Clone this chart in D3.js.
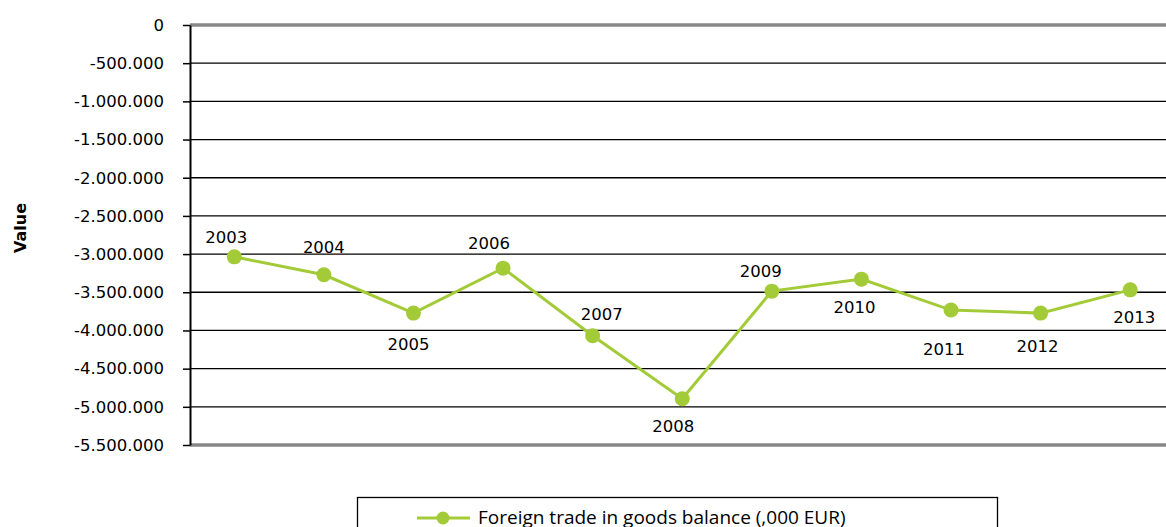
<!DOCTYPE html>
<html>
<head>
<meta charset="utf-8">
<script src="https://cdn.jsdelivr.net/npm/d3@7"></script>
<style>
  body { margin: 0; background: #fff; }
  svg { display: block; font-family: 'Open Sans', sans-serif; }
</style>
</head>
<body>
<div id="chart"></div>
<script>
// data
const years = ['2003', '2004', '2005', '2006', '2007', '2008', '2009', '2010', '2011', '2012', '2013'];
const balance = [-3036000, -3271000, -3773000, -3184000, -4070000, -4894000, -3485000, -3328000, -3733000, -3773000, -3468000];
const yTicks = [0, -500000, -1000000, -1500000, -2000000, -2500000, -3000000, -3500000, -4000000, -4500000, -5000000, -5500000];
const seriesName = 'Foreign trade in goods balance (,000 EUR)';
const axisTitle = 'Value';

// where each data label sits, relative to its point (excel-style placement)
const labelNudge = [[-8, -20], [0, -28], [-5, 31], [-14, -25], [9, -22], [-9, 28],
  [-11, -20], [-7, 28], [-7, 39], [-3, 33], [4, 27]];

const width = 1166;
const height = 527;
const green = '#a3cb38';
const numFont = "'DejaVu Sans', sans-serif";
const fmt = d3.formatLocale({ decimal: ',', thousands: '.', grouping: [3], currency: ['', ''], minus: '-' }).format(',');

const svg = d3.select('#chart')
  .append('svg')
  .attr('width', width)
  .attr('height', height);

const x = d3.scalePoint()
  .domain(years)
  .range([189.5, 1175])
  .padding(0.5);

const y = d3.scaleLinear()
  .domain([-5500000, 0])
  .range([445, 25]);

const left = 190;

/* grid lines */
svg.append('g')
  .selectAll('line')
  .data(yTicks.filter((d) => d !== 0 && d !== -5500000))
  .join('line')
  .attr('x1', left)
  .attr('x2', width)
  .attr('y1', (d) => y(d))
  .attr('y2', (d) => y(d))
  .attr('stroke', '#000')
  .attr('stroke-width', 1.3);

// top and bottom gray borders
svg.append('line')
  .attr('x1', left).attr('x2', width)
  .attr('y1', y(0)).attr('y2', y(0))
  .attr('stroke', '#888').attr('stroke-width', 3.5);
svg.append('line')
  .attr('x1', left).attr('x2', width)
  .attr('y1', y(-5500000)).attr('y2', y(-5500000))
  .attr('stroke', '#888').attr('stroke-width', 3.5);

/* y axis */
function yAxis(g) {
  g.attr('transform', `translate(${left},0)`)
    .call(d3.axisLeft(y).tickValues(yTicks).tickFormat(fmt).tickSize(7).tickPadding(19).tickSizeOuter(0));
  g.select('.domain').attr('stroke', '#000').attr('stroke-width', 2);
  g.selectAll('.tick line').attr('stroke', '#000').attr('stroke-width', 1.5);
  g.selectAll('.tick text')
    .attr('font-size', '16.5px')
    .attr('font-family', numFont)
    .attr('fill', '#000');
}
svg.append('g').call(yAxis);

svg.append('text')
  .attr('transform', 'translate(20,228) rotate(-90)')
  .attr('text-anchor', 'middle')
  .attr('dy', '0.35em')
  .attr('font-family', numFont)
  .attr('font-size', '16px')
  .attr('font-weight', 'bold')
  .text(axisTitle);

/* line + markers */
const line = d3.line()
  .x((d, i) => x(years[i]))
  .y((d) => y(d));

svg.append('path')
  .datum(balance)
  .attr('fill', 'none')
  .attr('stroke', green)
  .attr('stroke-width', 3)
  .attr('d', line);

svg.append('g')
  .selectAll('circle')
  .data(balance)
  .join('circle')
  .attr('cx', (d, i) => x(years[i]))
  .attr('cy', (d) => y(d))
  .attr('r', 7.5)
  .attr('fill', green);

svg.append('g')
  .selectAll('text')
  .data(balance)
  .join('text')
  .attr('x', (d, i) => x(years[i]) + labelNudge[i][0])
  .attr('y', (d, i) => y(d) + labelNudge[i][1])
  .attr('dy', '0.35em')
  .attr('text-anchor', 'middle')
  .attr('font-family', numFont)
  .attr('font-size', '16.5px')
  .text((d, i) => years[i]);

/* legend */
const legend = svg.append('g');
legend.append('rect')
  .attr('x', 357.5)
  .attr('y', 497.5)
  .attr('width', 640)
  .attr('height', 60)
  .attr('fill', 'none')
  .attr('stroke', '#000')
  .attr('stroke-width', 1.3);
legend.append('line')
  .attr('x1', 417).attr('x2', 470)
  .attr('y1', 518).attr('y2', 518)
  .attr('stroke', green).attr('stroke-width', 3);
legend.append('circle')
  .attr('cx', 443).attr('cy', 518).attr('r', 6.5)
  .attr('fill', green);
legend.append('text')
  .attr('x', 478)
  .attr('y', 524)
  .attr('font-size', '19px')
  .text(seriesName);
</script>
</body>
</html>
